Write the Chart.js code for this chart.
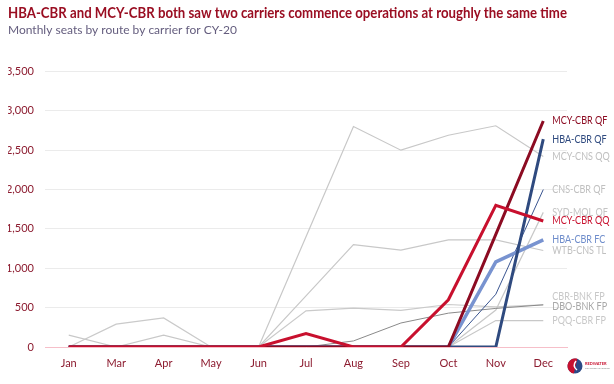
<!DOCTYPE html>
<html>
<head>
<meta charset="utf-8">
<script src="https://cdn.jsdelivr.net/npm/chart.js@4.4.1/dist/chart.umd.min.js"></script>
<style>
  html, body { margin: 0; padding: 0; background: #ffffff; }
  #wrap { width: 614px; height: 384px; position: relative; }
</style>
</head>
<body>
<div id="wrap"><canvas id="c" width="614" height="384"></canvas></div>
<script>
// ---------- data ----------
const months = ['Jan','Mar','Apr','May','Jun','Jul','Aug','Sep','Oct','Nov','Dec'];

const mcyCbrQQ = [0, 0, 0, 0, 0, 170, 0, 0, 600, 1800, 1600];
const mcyCbrQF = [0, 0, 0, 0, 0, 0, 0, 0, 0, 1430, 2870];
const hbaCbrQF = [0, 0, 0, 0, 0, 0, 0, 0, 0, 0, 2640];
const hbaCbrFC = [0, 0, 0, 0, 0, 0, 0, 0, 0, 1080, 1360];
const cnsCbrQF = [0, 0, 0, 0, 0, 0, 0, 0, 0, 670, 2000];
const mcyCnsQQ = [0, 0, 0, 0, 0, 1400, 2800, 2500, 2690, 2810, 2420];
const sydMqlQF = [0, 0, 0, 0, 0, 0, 0, 0, 0, 470, 1710];
const wtbCnsTL = [0, 0, 0, 0, 0, 650, 1300, 1230, 1360, 1360, 1226];
const cbrBnkFP = [0, 290, 370, 0, 0, 460, 495, 465, 540, 510, 535];
const dboBnkFP = [0, 0, 0, 0, 0, 0, 77, 305, 430, 490, 536];
const pqqCbrFP = [150, 0, 150, 0, 0, 0, 0, 0, 0, 336, 336];

const yTicks = [0, 500, 1000, 1500, 2000, 2500, 3000, 3500];

const titleText = 'HBA-CBR and MCY-CBR both saw two carriers commence operations at roughly the same time';
const subtitleText = 'Monthly seats by route by carrier for CY-20';

// ---------- styles ----------
const series = [
  { label: 'MCY-CBR QQ', data: mcyCbrQQ, color: '#C8102E', width: 3,   labelColor: '#C8102E', dy: 0 },
  { label: 'MCY-CBR QF', data: mcyCbrQF, color: '#8C0B22', width: 3,   labelColor: '#8C0B22', dy: 0 },
  { label: 'HBA-CBR QF', data: hbaCbrQF, color: '#2F4A7F', width: 3,   labelColor: '#2F4A7F', dy: 0 },
  { label: 'HBA-CBR FC', data: hbaCbrFC, color: '#7893D0', width: 3.5, labelColor: '#6F8DCB', dy: 0 },
  { label: 'CNS-CBR QF', data: cnsCbrQF, color: '#3A5590', width: 1,   labelColor: '#C0C0C0', dy: 0 },
  { label: 'DBO-BNK FP', data: dboBnkFP, color: '#8A8A8A', width: 1,   labelColor: '#A8A8A8', dy: 2 },
  { label: 'MCY-CNS QQ', data: mcyCnsQQ, color: '#C8C8C8', width: 1.2, labelColor: '#C0C0C0', dy: 0 },
  { label: 'SYD-MQL QF', data: sydMqlQF, color: '#C8C8C8', width: 1.2, labelColor: '#C4C4C4', dy: 0 },
  { label: 'WTB-CNS TL', data: wtbCnsTL, color: '#C8C8C8', width: 1.2, labelColor: '#C0C0C0', dy: 0 },
  { label: 'CBR-BNK FP', data: cbrBnkFP, color: '#CACACA', width: 1.2, labelColor: '#C8C8C8', dy: -8 },
  { label: 'PQQ-CBR FP', data: pqqCbrFP, color: '#C8C8C8', width: 1.2, labelColor: '#C8C8C8', dy: 0 }
];

const tickColor = '#8C1B2F';
const FONT = 'Lato, "Open Sans", "DejaVu Sans", sans-serif';

// ---------- plugins ----------
const endLabels = {
  id: 'endLabels',
  afterDatasetsDraw(chart) {
    const ctx = chart.ctx;
    for (let i = chart.data.datasets.length - 1; i >= 0; i--) {
      const ds = chart.data.datasets[i];
      const meta = chart.getDatasetMeta(i);
      const pt = meta.data[meta.data.length - 1];
      if (!pt) continue;
      ctx.save();
      ctx.font = '10.5px ' + FONT;
      ctx.textAlign = 'left';
      ctx.textBaseline = 'middle';
      ctx.fillStyle = ds.endLabelColor;
      ctx.translate(pt.x + 9, pt.y + (ds.endLabelDy || 0));
      ctx.scale(0.86, 1);
      ctx.fillText(ds.label, 0, 0);
      ctx.restore();
    }
  }
};

const logo = {
  id: 'logo',
  afterDraw(chart) {
    const ctx = chart.ctx;
    ctx.save();
    const cx = 575, cy = 366, r = 7.5;
    ctx.beginPath();
    ctx.arc(cx, cy, r, 0, Math.PI * 2);
    ctx.fillStyle = '#2C4A86';
    ctx.fill();
    ctx.beginPath();
    ctx.arc(cx, cy, r, Math.PI * 0.55, Math.PI * 1.6);
    ctx.closePath();
    ctx.fillStyle = '#C8102E';
    ctx.fill();
    ctx.beginPath();
    ctx.moveTo(cx + 1, cy - 5);
    ctx.quadraticCurveTo(cx - 3, cy, cx + 2, cy + 4);
    ctx.strokeStyle = '#ffffff';
    ctx.lineWidth = 1.5;
    ctx.stroke();
    ctx.textBaseline = 'middle';
    ctx.font = 'bold 4px ' + FONT;
    ctx.fillStyle = '#C8102E';
    ctx.fillText('REDWATER', 585, 364);
    ctx.font = '2.5px ' + FONT;
    ctx.fillStyle = '#7a7a7a';
    ctx.fillText('CONSULTING GROUP', 585, 368.5);
    ctx.restore();
  }
};

// ---------- chart ----------
new Chart(document.getElementById('c'), {
  type: 'line',
  data: {
    labels: months,
    datasets: series.map(s => ({
      label: s.label,
      data: s.data,
      borderColor: s.color,
      backgroundColor: s.color,
      borderWidth: s.width,
      pointRadius: 0,
      pointHoverRadius: 0,
      tension: 0,
      fill: false,
      borderJoinStyle: 'miter',
      endLabelColor: s.labelColor,
      endLabelDy: s.dy
    }))
  },
  options: {
    responsive: false,
    animation: false,
    layout: { padding: { left: 8, right: 47, top: 0, bottom: 6 } },
    plugins: {
      legend: { display: false },
      tooltip: { enabled: false },
      title: {
        display: true,
        text: titleText,
        align: 'start',
        color: '#9A0E22',
        font: { family: FONT, size: 14.2, weight: 'bold', lineHeight: 1.2 },
        padding: { top: 5, bottom: 1 }
      },
      subtitle: {
        display: true,
        text: subtitleText,
        align: 'start',
        color: '#645D7E',
        font: { family: FONT, size: 12, lineHeight: 1.2 },
        padding: { top: 0, bottom: 34 }
      }
    },
    scales: {
      x: {
        offset: true,
        grid: { display: false, drawTicks: false },
        border: { display: true, color: '#F6BFC9', width: 1 },
        ticks: { color: tickColor, font: { family: FONT, size: 11 }, padding: 10, maxRotation: 0, autoSkip: false },
        afterFit(scale) { scale.height = 31; }
      },
      y: {
        min: 0,
        max: 3500,
        afterBuildTicks(scale) { scale.ticks = yTicks.map(v => ({ value: v })); },
        grid: { color: '#EBEBEB', drawTicks: false, lineWidth: 1 },
        border: { display: false },
        ticks: {
          color: tickColor,
          font: { family: FONT, size: 11 },
          padding: 11,
          callback: v => v.toLocaleString('en-US')
        },
        afterFit(scale) { scale.width = 37; }
      }
    }
  },
  plugins: [endLabels, logo]
});
</script>
</body>
</html>
